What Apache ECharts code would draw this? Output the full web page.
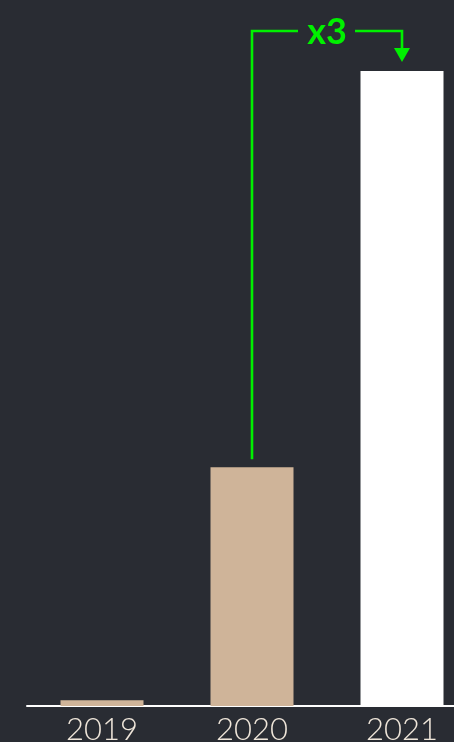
<!DOCTYPE html>
<html>
<head>
<meta charset="utf-8">
<script src="https://cdn.jsdelivr.net/npm/echarts@6/dist/echarts.min.js"></script>
<style>
html,body{margin:0;padding:0;background:#292c33;overflow:hidden;width:454px;height:742px;}
#c{width:477px;height:742px;}
</style>
</head>
<body>
<div id="c"></div>
<script>
var categories = ['2019', '2020', '2021'];
var values = [0.9, 37.6, 100];
var barColors = ['#cfb499', '#cfb499', '#ffffff'];
var annotationText = 'x3';

var chart = echarts.init(document.getElementById('c'));
var green = '#00f000';
var option = {
  backgroundColor: '#292c33',
  animation: false,
  grid: { left: 27, top: 71, bottom: 36, right: 0, outerBoundsMode: 'none', containLabel: false },
  xAxis: {
    type: 'category',
    data: categories,
    axisLine: { lineStyle: { color: '#ffffff', width: 2 } },
    axisTick: { show: false },
    axisLabel: { color: '#efe6da', fontSize: 31, fontFamily: 'Lato', fontWeight: 300, margin: 8 }
  },
  yAxis: { type: 'value', min: 0, max: 100, show: false, splitLine: { show: false } },
  series: [{
    type: 'bar',
    barWidth: 83,
    data: values.map(function (v, i) { return { value: v, itemStyle: { color: barColors[i] } }; })
  }]
};
chart.setOption(option);

var p1 = chart.convertToPixel({ xAxisIndex: 0, yAxisIndex: 0 }, [1, values[1]]);
var p2 = chart.convertToPixel({ xAxisIndex: 0, yAxisIndex: 0 }, [2, values[2]]);
var yTop = 31;
var textX = 327;
var lw = 2.6;
chart.setOption({
  graphic: [
    { type: 'polyline', shape: { points: [[p1[0], p1[1] - 8], [p1[0], yTop], [textX - 29, yTop]] },
      style: { stroke: green, lineWidth: lw, fill: null } },
    { type: 'polyline', shape: { points: [[textX + 28, yTop], [p2[0], yTop], [p2[0], p2[1] - 22]] },
      style: { stroke: green, lineWidth: lw, fill: null } },
    { type: 'polygon', shape: { points: [[p2[0] - 8, p2[1] - 23], [p2[0] + 8, p2[1] - 23], [p2[0], p2[1] - 9]] },
      style: { fill: green } },
    { type: 'text', x: textX, y: yTop + 1, style: { text: annotationText, fill: green, font: 'bold 36px Lato', align: 'center', verticalAlign: 'middle' } }
  ]
});
</script>
</body>
</html>
